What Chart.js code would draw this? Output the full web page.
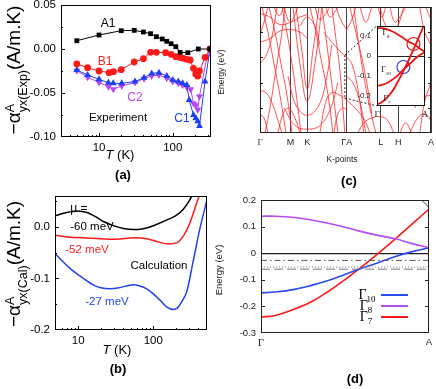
<!DOCTYPE html>
<html lang="en">
<head>
<meta charset="UTF-8">
<title>Anomalous Nernst panels</title>
<script src="https://cdn.jsdelivr.net/npm/chart.js"></script>
<style>
  body { margin: 0; width: 436px; height: 389px; position: relative; overflow: hidden; background: #fff;
         font-family: "Liberation Sans", Arial, sans-serif; color: #000; }
  canvas { position: absolute; }
  .t { position: absolute; transform: translate(-50%, -50%); white-space: nowrap; line-height: 1; }
  .yt { position: absolute; transform: translate(-50%, -50%) rotate(-90deg); white-space: nowrap; line-height: 1; }
  .st { display: inline-flex; flex-direction: column; font-size: 12.5px; line-height: 1; vertical-align: 0.55em; }
  .serif { font-family: "Liberation Serif", "DejaVu Serif", serif; }
  .ln { position: absolute; height: 2px; }
</style>
</head>
<body>
<canvas id="ca"></canvas>
<canvas id="cb"></canvas>
<canvas id="cc"></canvas>
<canvas id="cd"></canvas>
<canvas id="ci"></canvas>

<!-- panel (a) text -->
<div class="yt" style="left:16px;top:70px;font-size:19px">−α<span class="st"><span>A</span><span>yx(Exp)</span></span>(A/m.K)</div>
<div class="t" style="left:108px;top:23px;font-size:12px">A1</div>
<div class="t" style="left:105px;top:61px;font-size:12px;color:#ff1a1a">B1</div>
<div class="t" style="left:135px;top:97px;font-size:12px;color:#c040f0">C2</div>
<div class="t" style="left:118px;top:118px;font-size:11.5px">Experiment</div>
<div class="t" style="left:182px;top:118px;font-size:12px;color:#1f3ff5">C1</div>
<div class="t" style="left:120px;top:154px;font-size:13px"><i>T</i> (K)</div>
<div class="t" style="left:123px;top:174px;font-size:13px;font-weight:bold">(a)</div>

<!-- panel (b) text -->
<div class="yt" style="left:16px;top:264px;font-size:19px">−α<span class="st"><span>A</span><span>yx(Cal)</span></span>(A/m.K)</div>
<div class="t" style="left:79px;top:208px;font-size:12px">μ =</div>
<div class="t" style="left:92px;top:227px;font-size:11.5px">-60 meV</div>
<div class="t" style="left:87px;top:250px;font-size:11.5px;color:#ff1a1a">-52 meV</div>
<div class="t" style="left:159px;top:266px;font-size:11.5px">Calculation</div>
<div class="t" style="left:107px;top:302px;font-size:11.5px;color:#2244ee">-27 meV</div>
<div class="t" style="left:117px;top:349px;font-size:13px"><i>T</i> (K)</div>
<div class="t" style="left:118px;top:368px;font-size:13px;font-weight:bold">(b)</div>

<!-- panel (c) text -->
<div class="yt" style="left:221px;top:72px;font-size:8.5px;color:#222">Energy (eV)</div>
<div class="t" style="left:342px;top:159px;font-size:8.5px;color:#222">K-points</div>
<div class="t" style="left:349px;top:180px;font-size:13px;font-weight:bold">(c)</div>
<div class="t serif" style="left:386px;top:34px;font-size:8px">Γ<sub style="font-size:5px">8</sub></div>
<div class="t serif" style="left:386px;top:71px;font-size:8px">Γ<sub style="font-size:5px">10</sub></div>
<div class="t serif" style="left:387px;top:100px;font-size:8px">Γ<sub style="font-size:5px">7</sub></div>

<!-- panel (d) text -->
<div class="yt" style="left:219px;top:270px;font-size:9.5px;color:#222">Energy (eV)</div>
<div class="t" style="left:355px;top:378px;font-size:13px;font-weight:bold">(d)</div>
<div class="t serif" style="left:367px;top:296px;font-size:14px">Γ<sub style="font-size:9px">10</sub></div>
<div class="t serif" style="left:366px;top:307px;font-size:14px">Γ<sub style="font-size:9px">8</sub></div>
<div class="t serif" style="left:366px;top:318px;font-size:14px">Γ<sub style="font-size:9px">7</sub></div>
<div class="ln" style="left:381px;top:294px;width:27px;background:#2a4cf0"></div>
<div class="ln" style="left:381px;top:305px;width:27px;background:#b44cf0"></div>
<div class="ln" style="left:381px;top:316px;width:27px;background:#ff1a1a"></div>

<script>
// ---- (a) experiment: T (K) and -alpha (A/m.K)
const a1T = [5, 10, 20, 30, 40, 50, 60, 72, 83, 95, 110, 126, 160, 222, 320];
const a1V = [0.0094, 0.0159, 0.0208, 0.0212, 0.0193, 0.0174, 0.014, 0.0114, 0.0087, 0.006, 0.0026, -0.0038, -0.0042, 0.0, 0.0];
const b1T = [5, 7, 10, 13.7, 15.7, 20, 30, 40, 50, 60, 80, 95, 110, 126, 139, 155, 172, 191, 205, 218, 230, 274, 320];
const b1V = [-0.017, -0.0212, -0.025, -0.0269, -0.0258, -0.0235, -0.0148, -0.011, -0.0038, -0.0038, -0.0042, -0.0061, -0.0087, -0.0098, -0.0106, -0.0117, -0.0125, -0.022, -0.0284, -0.0307, -0.025, -0.0095, 0.0];
const c2T = [5, 7, 10, 13.4, 15.6, 20.3, 30.7, 40.8, 51.8, 65, 83, 100, 119, 136, 155, 175, 192, 205, 218, 230, 290, 320];
const c2V = [-0.0246, -0.032, -0.038, -0.0428, -0.0458, -0.042, -0.038, -0.0337, -0.0307, -0.0295, -0.0333, -0.037, -0.039, -0.041, -0.0436, -0.0458, -0.062, -0.064, -0.069, -0.054, -0.009, 0.0];
const c1T = [5, 7, 10, 13.4, 15.6, 20.3, 30.7, 40.8, 51.8, 65, 83, 100, 119, 136, 155, 167, 191, 205, 218, 230, 274, 320];
const c1V = [-0.0239, -0.0295, -0.0345, -0.0383, -0.039, -0.039, -0.037, -0.0326, -0.0277, -0.0269, -0.0307, -0.0352, -0.037, -0.039, -0.041, -0.058, -0.075, -0.0788, -0.082, -0.0875, -0.037, 0.0];
const xTicksA = [4, 5, 6, 7, 8, 9, 10, 20, 30, 40, 50, 60, 70, 80, 90, 100, 200, 300];
const yTicksA = [-0.1, -0.075, -0.05, -0.025, 0, 0.025, 0.05];

// ---- (b) calculation, one curve per chemical potential
const mu60T = [5, 7, 10, 13, 17, 22, 30, 40, 55, 70, 90, 120, 160, 200, 250, 300, 340];
const mu60V = [0.022, 0.028, 0.031, 0.028, 0.02, 0.01, 0.002, -0.003, -0.005, -0.004, 0.0, 0.007, 0.015, 0.022, 0.034, 0.05, 0.065];
const mu52T = [5, 7.7, 11.7, 19.5, 32.5, 54, 82, 123, 158, 205, 251, 308, 380, 420];
const mu52V = [-0.016, -0.02, -0.021, -0.023, -0.024, -0.021, -0.023, -0.03, -0.033, -0.031, -0.018, 0.008, 0.047, 0.065];
const mu27T = [5, 7.7, 11.7, 16, 20, 26, 35, 45, 55, 65, 82, 100, 123, 150, 185, 210, 240, 280, 340, 420, 515];
const mu27V = [-0.053, -0.08, -0.1, -0.113, -0.118, -0.12, -0.118, -0.114, -0.112, -0.114, -0.12, -0.13, -0.142, -0.155, -0.16, -0.157, -0.145, -0.125, -0.067, -0.002, 0.05];
const xTicksB = [5, 6, 7, 8, 9, 10, 20, 30, 40, 50, 60, 70, 80, 90, 100, 200, 300, 400, 500];
const yTicksB = [-0.2, -0.15, -0.1, -0.05, 0, 0.05];

// ---- (c) band structure along the k-path, [k, E(eV)]
const kTicks = [0, 30.5, 47.3, 87, 121, 138.5, 171.3];
const kLabels = ['Γ', 'M', 'K', 'ΓA', 'L', 'H', 'A'];
const yTicksC = [-0.5, -0.4, -0.3, -0.2, -0.1, 0, 0.1, 0.2, 0.3, 0.4, 0.5];
const bandsGM = [
  [[0, 0.28], [4, 0.38], [8, 0.5]],
  [[2, 0.5], [8, 0.3], [14, 0.05], [20, -0.2], [26, -0.5]],
  [[9, 0.5], [15, 0.3], [21, 0.05], [27, -0.2], [32, -0.5]],
  [[14, 0.5], [19, 0.43], [24, 0.5]],
  [[0, -0.16], [6, -0.18], [12, -0.26], [18, -0.4], [22, -0.5]],
  [[0, -0.35], [4, -0.38], [8, -0.5]],
  [[0, 0.22], [10, 0.25], [20, 0.31], [31, 0.32], [40, 0.3], [47.3, 0.25]],
  [[0, 0.45], [10, 0.42], [20, 0.36], [31, 0.38], [40, 0.42], [47.3, 0.44]],
  [[22, 0.5], [28, 0.25], [33, 0.0], [38, -0.3], [41, -0.5]],
  [[0, 0.05], [5, 0.1], [10, 0.2], [14, 0.35], [17, 0.5]],
  [[5, -0.5], [10, -0.3], [14, -0.1], [18, 0.1], [22, 0.3], [25, 0.5]],
  [[18, -0.5], [23, -0.35], [28, -0.3], [31, -0.32], [36, -0.4], [40, -0.5]],
  [[24, 0.5], [28, 0.4], [31, 0.38], [34, 0.42], [38, 0.5]]
];
const bandsK = [
  [[36, 0.5], [42, 0.15], [47.3, -0.15], [53, 0.15], [59, 0.5]],
  [[33, 0.5], [40, 0.05], [47.3, -0.25], [55, 0.05], [62, 0.5]],
  [[28, -0.05], [36, -0.28], [47.3, -0.36], [59, -0.28], [67, -0.05], [72, 0.2]],
  [[24, -0.3], [35, -0.44], [47.3, -0.47], [60, -0.44], [71, -0.3], [78, -0.1]],
  [[40, 0.35], [47.3, 0.42], [55, 0.35], [60, 0.2]]
];
const bandsKA = [
  [[55, 0.5], [60, 0.4], [66, 0.45], [70, 0.5]],
  [[62, 0.5], [67, 0.2], [71, -0.05], [75, -0.3], [78, -0.5]],
  [[72, 0.5], [76, 0.25], [80, 0.0], [83, -0.3], [85, -0.5]],
  [[60, -0.5], [66, -0.25], [72, -0.18], [80, -0.2], [87, -0.24]],
  [[64, 0.3], [72, 0.22], [80, 0.15], [87, 0.1]],
  [[76, 0.5], [82, 0.38], [87, 0.32]],
  [[50, 0.5], [56, 0.3], [62, 0.05], [66, -0.1], [70, -0.3], [73, -0.5]],
  [[66, 0.5], [70, 0.42], [75, 0.46], [78, 0.5]],
  [[74, -0.5], [78, -0.35], [83, -0.3], [87, -0.32]]
];
const bandsAL = [
  [[87, 0.1], [92, 0.05], [98, -0.15], [104, -0.5]],
  [[87, 0.32], [92, 0.4], [96, 0.5]],
  [[90, 0.5], [96, 0.3], [102, 0.1], [108, -0.15], [112, -0.35]],
  [[100, 0.5], [106, 0.38], [112, 0.5]],
  [[87, -0.24], [95, -0.3], [105, -0.4], [110, -0.5]],
  [[98, -0.5], [104, -0.42], [112, -0.38], [121, -0.37], [128, -0.4], [134, -0.5]],
  [[118, 0.5], [122, 0.42], [126, 0.5]],
  [[87, -0.05], [93, -0.1], [100, -0.25], [106, -0.5]],
  [[94, 0.5], [99, 0.2], [104, -0.05], [110, -0.3], [116, -0.5]]
];
const bandsHA = [
  [[130, 0.5], [135, 0.38], [140, 0.42], [146, 0.5]],
  [[140, -0.5], [146, -0.42], [152, -0.5]],
  [[150, -0.5], [158, -0.38], [165, -0.35], [171.3, -0.4]],
  [[160, 0.5], [165, 0.3], [171.3, 0.2]],
  [[166, 0.5], [171.3, 0.4]],
  [[155, -0.3], [162, -0.22], [171.3, -0.2]],
  [[120, 0.5], [126, 0.35], [132, 0.3], [138, 0.35], [144, 0.5]],
  [[160, -0.5], [165, -0.25], [171.3, -0.1]]
];
const zoomBox = [
  [[85, 0.118], [117, 0.35]],
  [[85, 0.118], [85, -0.223]],
  [[85, -0.223], [117, -0.285]]
];

// ---- (d) bands near Gamma-A, k as fraction of the path
const kFrac = [0, 0.085, 0.2, 0.3, 0.4, 0.5, 0.58, 0.68, 0.8, 0.9, 1];
const g8 = [0.139, 0.139, 0.134, 0.125, 0.1125, 0.0975, 0.084, 0.069, 0.054, 0.036, 0.02];
const g10 = [-0.149, -0.146, -0.136, -0.121, -0.103, -0.08, -0.061, -0.04, -0.0125, 0.006, 0.02];
const g7 = [-0.24, -0.234, -0.21, -0.1825, -0.144, -0.099, -0.061, -0.01, 0.054, 0.11, 0.166];
const cornerBand = [[0.94, 0.21], [1, 0.172]];
const muLevels = [-0.027, -0.052, -0.060];
const yTicksD = [-0.3, -0.2, -0.1, 0, 0.1, 0.2];
const yTicksI = [-0.2, -0.1, 0, 0.1];
const blueRing = [[0.55, -0.055]];
const redRing = [[0.76, 0.06]];

const SANS = '"Liberation Sans", Arial, sans-serif';
const SERIF = '"Liberation Serif", "DejaVu Serif", serif';
const M = 20;

const pts = (xs, ys) => xs.map((x, i) => ({ x, y: ys[i] }));
const pairs = arr => arr.map(p => ({ x: p[0], y: p[1] }));
const near = (v, step) => Math.abs(v / step - Math.round(v / step)) < 1e-6;
const zeroGrid = c => (c.tick && Math.abs(c.tick.value) < 1e-9) ? '#222' : 'rgba(0,0,0,0)';

// frame round the plot area plus inward tick marks
const frame = {
  id: 'frame',
  beforeDraw(chart, args, o) {
    if (!o.fill) return;
    const { ctx, chartArea: a } = chart;
    ctx.save(); ctx.fillStyle = o.fill;
    ctx.fillRect(a.left, a.top, a.right - a.left, a.bottom - a.top);
    ctx.restore();
  },
  afterDraw(chart, args, o) {
    const { ctx, chartArea: a, scales } = chart;
    ctx.save();
    ctx.strokeStyle = o.color || '#000';
    ctx.lineWidth = o.lw || 1;
    ctx.strokeRect(a.left + 0.5, a.top + 0.5, a.right - a.left - 1, a.bottom - a.top - 1);
    const maj = o.major || 4, min = o.minor || 2;
    ctx.beginPath();
    if (!o.noX) scales.x.ticks.forEach(t => {
      const p = Math.round(scales.x.getPixelForValue(t.value)) + 0.5;
      if (p < a.left + 2 || p > a.right - 2) return;
      const L = t.label !== '' ? maj : min;
      ctx.moveTo(p, a.bottom); ctx.lineTo(p, a.bottom - L);
      if (o.mirror) { ctx.moveTo(p, a.top); ctx.lineTo(p, a.top + L); }
    });
    if (!o.noY) scales.y.ticks.forEach(t => {
      const p = Math.round(scales.y.getPixelForValue(t.value)) + 0.5;
      if (p < a.top + 2 || p > a.bottom - 2) return;
      const L = t.label !== '' ? maj : min;
      ctx.moveTo(a.left, p); ctx.lineTo(a.left + L, p);
      if (o.mirror) { ctx.moveTo(a.right, p); ctx.lineTo(a.right - L, p); }
    });
    ctx.stroke();
    ctx.restore();
  }
};

function place(id, l, t, r, b, yW, xH) {
  const c = document.getElementById(id);
  const w = r - l + yW + 2 * M, h = b - t + xH + 2 * M;
  c.width = w; c.height = h;
  c.style.width = w + 'px'; c.style.height = h + 'px';
  c.style.left = (l - yW - M) + 'px'; c.style.top = (t - M) + 'px';
  return c;
}

function baseOptions(yW, xH, frameOpts) {
  return {
    responsive: false, animation: false, devicePixelRatio: 1,
    layout: { padding: M },
    plugins: { legend: { display: false }, tooltip: { enabled: false }, frame: frameOpts },
    scales: {
      x: { afterFit: s => { s.height = xH; }, border: { display: false } },
      y: { afterFit: s => { s.width = yW; }, border: { display: false } }
    }
  };
}

function ticksFrom(list) { return s => { s.ticks = list.map(v => ({ value: v })); }; }

// ---------- (a)
(function () {
  const c = place('ca', 61, 5, 211, 137, 40, 20);
  const o = baseOptions(40, 20, { major: 4, minor: 2 });
  Object.assign(o.scales.x, {
    type: 'logarithmic', min: 3.05, max: 330, afterBuildTicks: ticksFrom(xTicksA),
    grid: { display: false, drawTicks: false },
    ticks: { autoSkip: false, maxRotation: 0, padding: 4, color: '#000', font: { family: SANS, size: 11.5 },
             callback: v => (v === 10 || v === 100) ? String(v) : '' }
  });
  Object.assign(o.scales.y, {
    type: 'linear', min: -0.1, max: 0.05, afterBuildTicks: ticksFrom(yTicksA),
    grid: { display: false, drawTicks: false },
    ticks: { padding: 5, color: '#000', font: { family: SANS, size: 11.5 },
             callback: v => near(v, 0.05) ? (Math.abs(v) < 1e-9 ? '0.00' : v.toFixed(2)) : '' }
  });
  const ds = (xs, ys, col, style, rot, r) => ({
    data: pts(xs, ys), borderColor: col, backgroundColor: col, borderWidth: 1,
    pointStyle: style, rotation: rot, pointRadius: r, pointBorderWidth: 0, tension: 0
  });
  new Chart(c, {
    type: 'line',
    data: { datasets: [
      ds(a1T, a1V, '#000', 'rect', 0, 3.4),
      ds(b1T, b1V, '#ff1a1a', 'circle', 0, 3.4),
      ds(c1T, c1V, '#1f3ff5', 'triangle', 0, 4),
      ds(c2T, c2V, '#b845f5', 'triangle', 180, 4)
    ] },
    options: o, plugins: [frame]
  });
})();

// ---------- (b)
(function () {
  const c = place('cb', 55, 196, 207, 330, 40, 20);
  const o = baseOptions(40, 20, { major: 4, minor: 2 });
  Object.assign(o.scales.x, {
    type: 'logarithmic', min: 4.9, max: 520, afterBuildTicks: ticksFrom(xTicksB),
    grid: { display: false, drawTicks: false },
    ticks: { autoSkip: false, maxRotation: 0, padding: 4, color: '#000', font: { family: SANS, size: 11.5 },
             callback: v => (v === 10 || v === 100) ? String(v) : '' }
  });
  Object.assign(o.scales.y, {
    type: 'linear', min: -0.2, max: 0.06, afterBuildTicks: ticksFrom(yTicksB),
    grid: { display: false, drawTicks: false },
    ticks: { padding: 5, color: '#000', font: { family: SANS, size: 11.5 },
             callback: v => near(v, 0.1) ? (Math.abs(v) < 1e-9 ? '0.0' : v.toFixed(1)) : '' }
  });
  const ds = (xs, ys, col) => ({ data: pts(xs, ys), borderColor: col, borderWidth: 1.5, pointRadius: 0,
                                  tension: 0.4, cubicInterpolationMode: 'monotone' });
  new Chart(c, {
    type: 'line',
    data: { datasets: [ds(mu60T, mu60V, '#000'), ds(mu52T, mu52V, '#ff1a1a'), ds(mu27T, mu27V, '#2244ee')] },
    options: o, plugins: [frame]
  });
})();

// ---------- (c)
(function () {
  const c = place('cc', 260, 7, 431, 133, 40, 20);
  const o = baseOptions(40, 20, { major: 3, minor: 3, mirror: true, noX: true, color: '#222' });
  Object.assign(o.scales.x, {
    type: 'linear', min: 0, max: 171.3, afterBuildTicks: ticksFrom(kTicks),
    grid: { color: '#444', lineWidth: 1, drawTicks: false },
    ticks: { autoSkip: false, maxRotation: 0, padding: 4, color: '#222',
             font: ctx => ({ family: (ctx.tick && ctx.tick.label === 'Γ') ? SERIF : SANS, size: 9 }),
             callback: (v, i) => kLabels[i] }
  });
  Object.assign(o.scales.y, {
    type: 'linear', min: -0.5, max: 0.5, afterBuildTicks: ticksFrom(yTicksC),
    grid: { color: zeroGrid, lineWidth: 1, drawTicks: false },
    ticks: { padding: 5, color: '#222', font: { family: SANS, size: 8.5 },
             callback: v => (near(v, 0.2) && Math.abs(v) < 0.45) ? (Math.abs(v) < 1e-9 ? '0' : v.toFixed(1)) : '' }
  });
  const bands = [].concat(bandsGM, bandsK, bandsKA, bandsAL, bandsHA).map(b => ({
    data: pairs(b), borderColor: 'rgba(255,30,30,0.85)', borderWidth: 0.9, pointRadius: 0, tension: 0.4
  }));
  const dashes = zoomBox.map(b => ({
    data: pairs(b), borderColor: '#222', borderWidth: 1, borderDash: [2, 2], pointRadius: 0, tension: 0
  }));
  new Chart(c, { type: 'line', data: { datasets: bands.concat(dashes) }, options: o, plugins: [frame] });
})();

// ---------- (d)
(function () {
  const c = place('cd', 261, 200, 429, 333, 40, 20);
  const o = baseOptions(40, 20, { major: 4, minor: 4, mirror: true, noX: true, color: '#222' });
  Object.assign(o.scales.x, {
    type: 'linear', min: 0, max: 1, afterBuildTicks: ticksFrom([0, 1]),
    grid: { display: false, drawTicks: false },
    ticks: { autoSkip: false, maxRotation: 0, padding: 4, color: '#222',
             font: ctx => ({ family: (ctx.tick && ctx.tick.label === 'Γ') ? SERIF : SANS, size: (ctx.tick && ctx.tick.label === 'Γ') ? 11 : 9.5 }),
             callback: v => v === 0 ? 'Γ' : 'A' }
  });
  Object.assign(o.scales.y, {
    type: 'linear', min: -0.3, max: 0.2, afterBuildTicks: ticksFrom(yTicksD),
    grid: { color: zeroGrid, lineWidth: 1.3, drawTicks: false },
    ticks: { padding: 5, color: '#222', font: { family: SANS, size: 9.5 },
             callback: v => Math.abs(v) < 1e-9 ? '0' : v.toFixed(1) }
  });
  const flat = (lvl, col, dash) => ({ data: [{ x: 0, y: lvl }, { x: 1, y: lvl }], borderColor: col,
                                     borderWidth: 1, borderDash: dash, pointRadius: 0 });
  const band = (ys, col) => ({ data: pts(kFrac, ys), borderColor: col, borderWidth: 1.6, pointRadius: 0, tension: 0.4 });
  new Chart(c, {
    type: 'line',
    data: { datasets: [
      flat(muLevels[0], '#555', [6, 3, 1.5, 3]),
      flat(muLevels[1], '#888', [1.2, 1.8]),
      flat(muLevels[2], '#777', [9, 4]),
      { data: pairs(cornerBand), borderColor: '#444', borderWidth: 1, pointRadius: 0 },
      band(g8, '#b44cf0'), band(g10, '#2a4cf0'), band(g7, '#ff1a1a')
    ] },
    options: o, plugins: [frame]
  });
})();

// ---------- inset of (c)
(function () {
  const c = place('ci', 377, 26, 425, 106, 24, 14);
  const o = baseOptions(24, 14, { noX: true, noY: true, fill: '#fff', color: '#111' });
  Object.assign(o.scales.x, {
    type: 'linear', min: 0, max: 1, afterBuildTicks: ticksFrom([0, 1]),
    grid: { display: false, drawTicks: false },
    ticks: { autoSkip: false, maxRotation: 0, padding: 3, color: '#222', font: { family: SERIF, size: 9 },
             callback: v => v === 0 ? 'Γ' : 'A' }
  });
  Object.assign(o.scales.y, {
    type: 'linear', min: -0.25, max: 0.15, afterBuildTicks: ticksFrom(yTicksI),
    grid: { color: zeroGrid, lineWidth: 1, drawTicks: false },
    ticks: { padding: 6, color: '#222', font: { family: SANS, size: 8 },
             callback: v => Math.abs(v) < 1e-9 ? '0' : v.toFixed(1) }
  });
  const band = ys => ({ data: pts(kFrac, ys), borderColor: '#ee1111', borderWidth: 1.8, pointRadius: 0, tension: 0.4 });
  const ring = (p, col) => ({ data: pairs(p), showLine: false, pointRadius: 6.5, pointStyle: 'circle',
                              pointBorderColor: col, pointBackgroundColor: 'rgba(0,0,0,0)', pointBorderWidth: 1.2 });
  new Chart(c, {
    type: 'line',
    data: { datasets: [band(g8), band(g10), band(g7), ring(redRing, '#ee1111'), ring(blueRing, '#2a3ff0')] },
    options: o, plugins: [frame]
  });
})();
</script>
</body>
</html>
